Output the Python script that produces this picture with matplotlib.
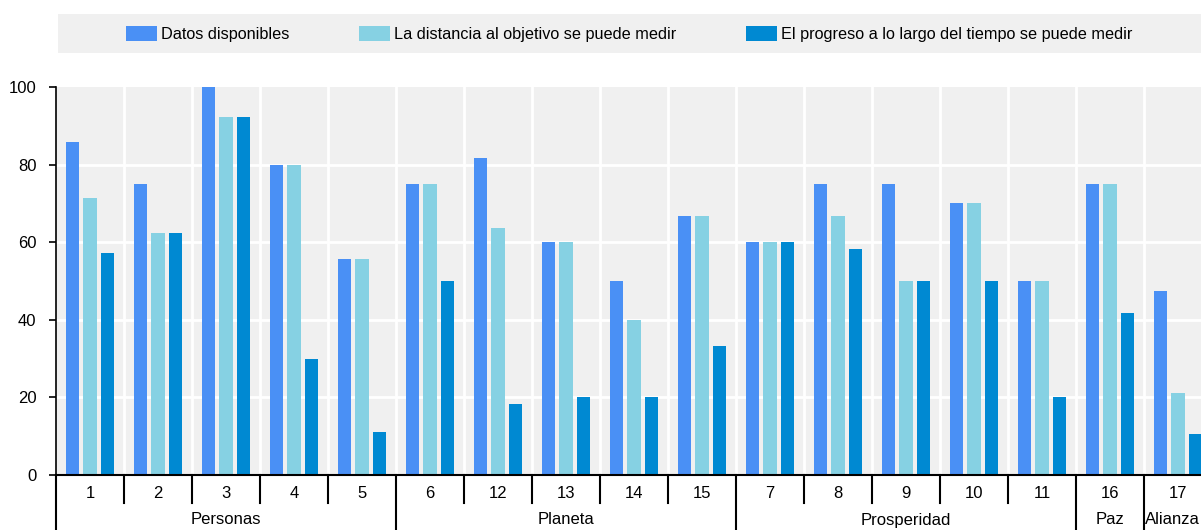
import numpy as np
import matplotlib
matplotlib.use("Agg")
import matplotlib.pyplot as plt
from matplotlib.patches import Rectangle
import matplotlib.transforms as mtransforms

plt.rcParams['font.family'] = ['Liberation Sans', 'DejaVu Sans']

# datos
objetivos = ["1", "2", "3", "4", "5", "6", "12", "13", "14", "15",
             "7", "8", "9", "10", "11", "16", "17"]
datos_disponibles = [85.7, 75, 100, 80, 55.6, 75, 81.8, 60, 50, 66.7,
                     60, 75, 75, 70, 50, 75, 47.4]
distancia = [71.4, 62.5, 92.3, 80, 55.6, 75, 63.6, 60, 40, 66.7,
             60, 66.7, 50, 70, 50, 75, 21.1]
progreso = [57.1, 62.5, 92.3, 30, 11.1, 50, 18.2, 20, 20, 33.3,
            60, 58.3, 50, 50, 20, 41.7, 10.5]
categorias = ["Personas", "Planeta", "Prosperidad", "Paz", "Alianza"]
tam_categorias = [5, 5, 5, 1, 1]
series = ["Datos disponibles", "La distancia al objetivo se puede medir",
          "El progreso a lo largo del tiempo se puede medir"]
colores = ["#4A90F5", "#86D1E3", "#0089D2"]

W, H = 1201, 530
fig = plt.figure(figsize=(W / 100, H / 100), dpi=100)

# fondo de la leyenda
fig.add_artist(Rectangle((58 / W, 1 - 53 / H), 1, 39 / H, transform=fig.transFigure,
                         facecolor="#F0F0F0", edgecolor="none", zorder=0))

n = len(objetivos)
ax = fig.add_axes([56 / W, 55 / H, 68 * n / W, 388 / H])
ax.set_facecolor("#F0F0F0")

x = np.arange(n) + 0.5
ancho = 0.2
desp = 0.255
b1 = ax.bar(x - desp, datos_disponibles, ancho, color=colores[0], label=series[0], zorder=3)
b2 = ax.bar(x, distancia, ancho, color=colores[1], label=series[1], zorder=3)
b3 = ax.bar(x + desp, progreso, ancho, color=colores[2], label=series[2], zorder=3)

ax.set_xlim(0, n)
ax.set_ylim(0, 100)
ax.set_yticks([0, 20, 40, 60, 80, 100])
ax.tick_params(axis="y", labelsize=12, length=5, width=1.2, direction="out", pad=9)
ax.set_xticks([])

# rejilla blanca
for yv in [20, 40, 60, 80]:
    ax.axhline(yv, color="white", lw=2, zorder=1)
for xv in range(1, n):
    ax.axvline(xv, color="white", lw=2, zorder=1)

for s in ["top", "right"]:
    ax.spines[s].set_visible(False)
ax.spines["left"].set_linewidth(1.2)
ax.spines["bottom"].set_linewidth(1.5)
ax.spines["bottom"].set_zorder(4)

# etiquetas del eje x
trans = mtransforms.blended_transform_factory(ax.transData, ax.transAxes)
px = 1 / 388
for i, lab in enumerate(objetivos):
    ax.text(x[i], -18 * px, lab, transform=trans, ha="center", va="center", fontsize=12)

limites = np.cumsum([0] + tam_categorias)
for xv in range(n + 1):
    if xv in limites:
        ax.plot([xv, xv], [0, -56 * px], transform=trans, color="black", lw=1.5, clip_on=False)
    else:
        ax.plot([xv, xv], [0, -28 * px], transform=trans, color="black", lw=1.5, clip_on=False)
for i, cat in enumerate(categorias):
    centro = (limites[i] + limites[i + 1]) / 2
    if i == len(categorias) - 1:
        # la última etiqueta queda pegada al borde derecho
        fig.text(1 - 1 / W, 1 - 520 / H, cat, ha="right", va="center", fontsize=12)
    else:
        ax.text(centro, -45 * px, cat, transform=trans, ha="center", va="center", fontsize=12)

fig.legend(handles=[b1, b2, b3], labels=series, loc="center", bbox_to_anchor=(629 / W, 1 - 34 / H),
           ncol=3, frameon=False, fontsize=11.7, handlelength=1.9, handleheight=1.0,
           handletextpad=0.25, columnspacing=4.3, borderpad=0)

fig.savefig("out.png", dpi=100)
